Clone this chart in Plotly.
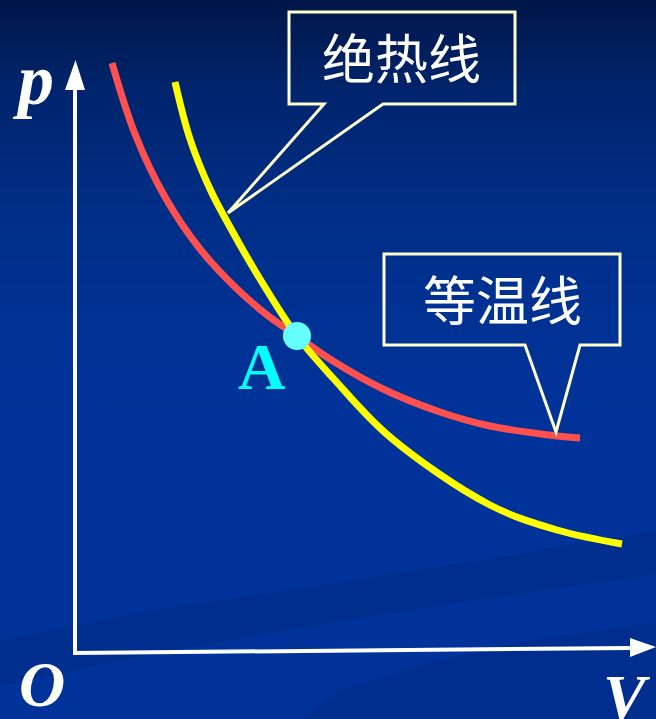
import plotly.graph_objects as go

# p-V diagram: isotherm vs adiabat through state A
iso_V = [0.37, 0.60, 0.90, 1.25, 1.60, 1.92, 2.22, 2.58, 3.08, 3.65, 4.15, 4.82, 5.05]
iso_p = [5.90, 5.19, 4.56, 4.04, 3.66, 3.38, 3.17, 2.92, 2.64, 2.41, 2.27, 2.17, 2.15]

adi_V = [1.00, 1.15, 1.35, 1.55, 1.85, 2.22, 2.58, 3.15, 4.15, 4.82, 5.47]
adi_p = [5.71, 5.14, 4.64, 4.26, 3.74, 3.17, 2.75, 2.16, 1.48, 1.23, 1.09]

state_A = {"V": 2.22, "p": 3.17, "label": "A"}
labels = {"adiabat": "绝热线", "isotherm": "等温线", "p": "p", "V": "V", "O": "O"}

W, H = 656, 719
X0, Y0, SCALE = 75, 653, 100  # origin position and px per unit


def V(px):
    return (px - X0) / SCALE


def P(py):
    return (Y0 - py) / SCALE


def path(points, close=True):
    d = "M " + " L ".join(f"{V(x):.4f},{P(y):.4f}" for x, y in points)
    return d + (" Z" if close else "")


fig = go.Figure()

# background gradient (dark navy at the top to blue below)
stops = [(0, (0, 22, 72)), (90, (0, 36, 108)), (200, (0, 45, 132)),
         (320, (0, 50, 148)), (420, (0, 51, 153)), (719, (0, 51, 153))]
shapes = []
band = 6
for y in range(0, H, band):
    yc = y + band / 2
    for (ya, ca), (yb, cb) in zip(stops[:-1], stops[1:]):
        if ya <= yc <= yb:
            t = (yc - ya) / (yb - ya)
            c = tuple(round(a + (b - a) * t) for a, b in zip(ca, cb))
            break
    shapes.append(dict(type="rect", xref="paper", yref="paper", layer="below",
                       x0=0, x1=1, y0=1 - (y + band + 1) / H, y1=1 - y / H,
                       line=dict(width=0), fillcolor=f"rgb{c}"))

# subtle darker swooshes near the bottom
swoosh = "rgba(0,30,110,0.22)"
shapes.append(dict(type="path", layer="below", line=dict(width=0), fillcolor=swoosh,
                   path=path([(0, 640), (150, 610), (300, 588), (480, 560), (656, 530),
                              (656, 575), (480, 600), (300, 628), (150, 655), (0, 686)])))
shapes.append(dict(type="path", layer="below", line=dict(width=0), fillcolor=swoosh,
                   path=path([(300, 719), (340, 690), (420, 665), (530, 640), (656, 622),
                              (656, 719)])))

# axes with arrowheads
shapes.append(dict(type="line", x0=V(75), y0=P(655), x1=V(75), y1=P(88),
                   line=dict(color="white", width=4)))
shapes.append(dict(type="path", path=path([(65, 90), (85, 90), (75.5, 60)]),
                   fillcolor="white", line=dict(width=0)))
shapes.append(dict(type="line", x0=V(73), y0=P(653), x1=V(632), y1=P(648),
                   line=dict(color="white", width=4)))
shapes.append(dict(type="path", path=path([(630, 638), (630, 657), (656, 647)]),
                   fillcolor="white", line=dict(width=0)))

# callout boxes
box_line = dict(color="#FFFFCC", width=3)
shapes.append(dict(type="path", line=box_line, fillcolor="rgba(0,0,0,0)",
                   path=path([(289, 12), (515, 12), (515, 104), (383, 104), (228, 213),
                              (324, 104), (289, 104)])))
shapes.append(dict(type="path", line=box_line, fillcolor="rgba(0,0,0,0)",
                   path=path([(384, 254), (620, 254), (620, 345), (580, 345), (556, 432),
                              (525, 345), (384, 345)])))

fig.add_trace(go.Scatter(x=iso_V, y=iso_p, mode="lines",
                         line=dict(color="#FF5050", width=7, shape="spline"),
                         hoverinfo="skip"))
fig.add_trace(go.Scatter(x=adi_V, y=adi_p, mode="lines",
                         line=dict(color="#FFFF00", width=7, shape="spline"),
                         hoverinfo="skip"))
fig.add_trace(go.Scatter(x=[state_A["V"]], y=[state_A["p"]], mode="markers",
                         marker=dict(size=28, color="#66FFFF", line=dict(width=0)),
                         hoverinfo="skip"))

serif_bi = dict(family="Liberation Serif", color="white", weight="bold", style="italic")
cjk = dict(family="Noto Sans CJK SC", color="white", size=53)
annotations = [
    dict(x=V(401), y=P(56), text=labels["adiabat"], font=cjk),
    dict(x=V(502), y=P(298), text=labels["isotherm"], font=cjk),
    dict(x=state_A["V"] - 0.35, y=state_A["p"] - 0.30, text=state_A["label"],
         font=dict(family="Liberation Serif", color="#00FFFF", size=66, weight="bold")),
    dict(x=V(33), y=P(80), text=labels["p"], font=dict(size=72, **serif_bi)),
    dict(x=V(42), y=P(684), text=labels["O"], font=dict(size=64, **serif_bi)),
    dict(x=V(627), y=P(697), text=labels["V"], font=dict(size=64, **serif_bi)),
]
for a in annotations:
    a.update(showarrow=False, xanchor="center", yanchor="middle")

fig.update_layout(
    width=W, height=H, margin=dict(l=0, r=0, t=0, b=0),
    paper_bgcolor="#003399", plot_bgcolor="rgba(0,0,0,0)",
    showlegend=False, shapes=shapes, annotations=annotations,
    xaxis=dict(range=[V(0), V(W)], visible=False, fixedrange=True),
    yaxis=dict(range=[P(H), P(0)], visible=False, fixedrange=True),
)

fig.write_html("out.html")
